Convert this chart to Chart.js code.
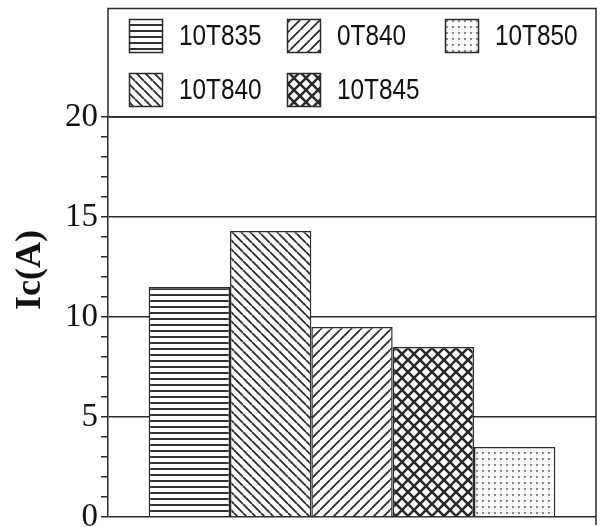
<!DOCTYPE html>
<html>
<head>
<meta charset="utf-8">
<script src="https://cdn.jsdelivr.net/npm/chart.js@4"></script>
<style>
  html, body { margin: 0; padding: 0; background: #fff; }
  #wrap { width: 601px; height: 527px; overflow: hidden; }
</style>
</head>
<body>
<div id="wrap"><canvas id="c" width="601" height="550"></canvas></div>
<script>
// bar order left to right
const seriesNames = ['10T835', '10T840', '0T840', '10T845', '10T850'];
const seriesValues = [11.5, 14.3, 9.5, 8.5, 3.5];
const yTicks = [0, 5, 10, 15, 20];
// legend layout: rows of dataset indices (column-major in the picture)
const legendRows = [[0, 2, 4], [1, 3]];

const INK = '#2a2a2a';

function makeTile(size, draw) {
  const t = document.createElement('canvas');
  t.width = size; t.height = size;
  const g = t.getContext('2d');
  g.fillStyle = '#fff';
  g.fillRect(0, 0, size, size);
  draw(g, size);
  return document.getElementById('c').getContext('2d').createPattern(t, 'repeat');
}

function diag(g, s, dir, w) {
  g.strokeStyle = INK;
  g.lineWidth = w;
  g.beginPath();
  for (const k of [-s, 0, s]) {
    if (dir > 0) { g.moveTo(k, s); g.lineTo(k + s, 0); }
    else { g.moveTo(k, 0); g.lineTo(k + s, s); }
  }
  g.stroke();
}

const patterns = [
  makeTile(6, (g, s) => { g.fillStyle = '#333'; g.fillRect(0, 0, s, 2); }),
  makeTile(9, (g, s) => diag(g, s, -1, 1.8)),
  makeTile(10, (g, s) => diag(g, s, 1, 1.8)),
  makeTile(12, (g, s) => { diag(g, s, 1, 2.6); diag(g, s, -1, 2.6); }),
  makeTile(6, (g, s) => {
    g.fillStyle = '#ececec';
    g.fillRect(0, 2, s, 1); g.fillRect(2, 0, 1, s);
    g.fillStyle = '#8a8a8a';
    g.fillRect(2, 2, 2, 2);
  })
];

const frameAndLegend = {
  id: 'frameAndLegend',
  afterDraw(chart) {
    const ctx = chart.ctx;
    const a = chart.chartArea;
    ctx.save();
    ctx.strokeStyle = INK;
    ctx.lineWidth = 1.5;
    // right border + legend box
    ctx.beginPath();
    ctx.moveTo(a.right, a.top);
    ctx.lineTo(a.right, a.bottom + 8);
    ctx.stroke();
    ctx.strokeRect(a.left, 8.5, a.right - a.left, a.top - 8.5);

    // legend items
    const colX = [129, 287, 445];
    const rowY = [19, 73];
    legendRows.forEach((row, r) => {
      row.forEach((di, ci) => {
        const x = colX[ci], y = rowY[r];
        ctx.fillStyle = patterns[di];
        ctx.fillRect(x, y, 33, 33);
        ctx.lineWidth = 1.5;
        ctx.strokeRect(x + 0.5, y + 0.5, 33, 33);
        // condensed gothic-like label
        ctx.save();
        ctx.translate(x + 50, y + 17);
        ctx.scale(0.84, 1);
        ctx.font = '29px "Liberation Sans", Arial, sans-serif';
        ctx.textBaseline = 'middle';
        ctx.textAlign = 'left';
        ctx.fillStyle = '#111';
        ctx.fillText(chart.data.datasets[di].label, 0, 1);
        ctx.restore();
      });
    });

    // y axis title
    ctx.translate(31, 270);
    ctx.rotate(-Math.PI / 2);
    ctx.font = 'bold 36px "Liberation Serif", "DejaVu Serif", serif';
    ctx.textAlign = 'center';
    ctx.textBaseline = 'middle';
    ctx.fillStyle = '#111';
    ctx.fillText('Ic(A)', 0, 0);
    ctx.restore();
  }
};

new Chart(document.getElementById('c'), {
  type: 'bar',
  data: {
    labels: [''],
    datasets: seriesNames.map((name, i) => ({
      label: name,
      data: [seriesValues[i]],
      backgroundColor: patterns[i],
      borderColor: INK,
      borderWidth: 1.5
    }))
  },
  options: {
    responsive: false,
    animation: false,
    layout: { padding: { top: 117, right: 5, bottom: 33, left: 0 } },
    datasets: { bar: { categoryPercentage: 5 / 6, barPercentage: 1 } },
    plugins: { legend: { display: false }, tooltip: { enabled: false } },
    scales: {
      x: { display: false },
      y: {
        min: 0,
        max: 20,
        afterFit(scale) { scale.width = 108; },
        ticks: {
          stepSize: 1,
          autoSkip: false,
          padding: 3,
          color: '#111',
          font: { family: '"Liberation Serif", "DejaVu Serif", serif', size: 33 },
          callback: v => yTicks.includes(v) ? String(v) : ''
        },
        grid: {
          color: c => yTicks.includes(c.tick && c.tick.value) ? INK : 'rgba(0,0,0,0)',
          tickColor: INK,
          tickLength: 7,
          lineWidth: 1.5
        },
        border: { display: true, color: INK, width: 1.5 }
      }
    }
  },
  plugins: [frameAndLegend]
});
</script>
</body>
</html>
